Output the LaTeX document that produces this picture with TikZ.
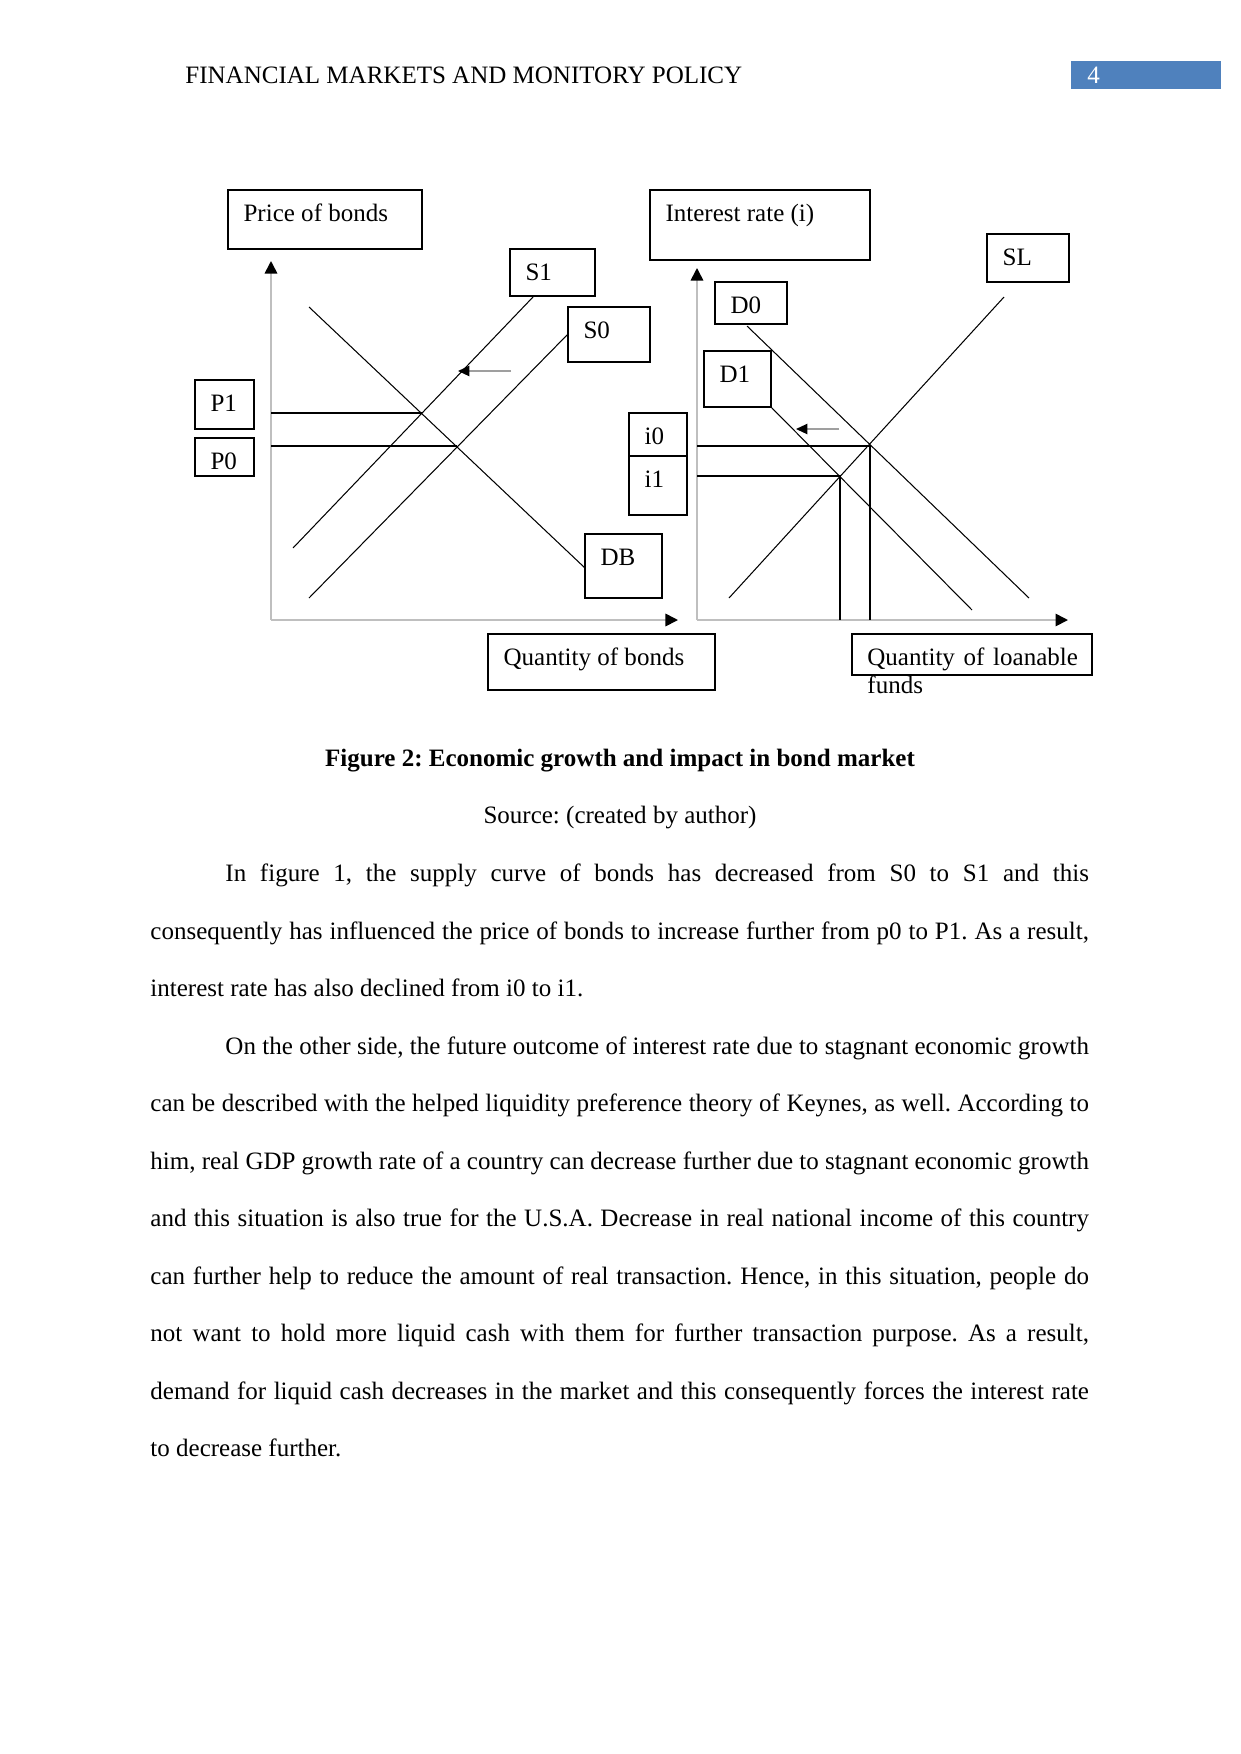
\documentclass[tikz,border=0pt,12pt]{standalone}
\usepackage{fontspec}
\setmainfont{Liberation Serif}
\usetikzlibrary{arrows.meta}
\definecolor{hdrB}{RGB}{79,129,189}
\frenchspacing
\tikzset{
  txt/.style={anchor=base west, inner sep=0pt, font=\fontsize{12}{13.8}\selectfont},
  tbox/.style={draw, line width=0.55pt},
  tlbl/.style={anchor=north west, inner xsep=7.2pt, inner ysep=4.1pt,
    text height=10.7pt, text depth=2.6pt, font=\fontsize{12}{13.8}\selectfont},
  curve/.style={line width=0.5pt},
  axis/.style={gray!50, line width=0.8pt, -{Triangle[length=6pt,width=6pt,color=black]}},
  moveArrow/.style={gray!75, line width=0.6pt, -{Triangle[length=5.5pt,width=5pt,color=black]}}
}

\begin{document}
\begin{tikzpicture}[x=0.47968pt, y=-0.47968pt]
\useasboundingbox (0,0) rectangle (1241,1754);
% page header
\node[txt] (hdr) at (185,83) {FINANCIAL MARKETS AND MONITORY POLICY};
\fill[hdrB] (1071,61) rectangle (1221,89);
\node[txt, white] (pgnum) at (1087,83) {4};
% left: bond market
\draw[axis] (271,620) -- (271,261);
\draw[axis] (271,620) -- (678,620);
\draw[tbox] (228,190) node[tlbl] (pb) {Price of bonds} rectangle (422,249);
\draw[tbox] (510,249) node[tlbl] (s1) {S1} rectangle (595,296);
\draw[tbox] (568,307) node[tlbl] (s0) {S0} rectangle (650,362);
\draw[tbox] (195,380) node[tlbl] (p1) {P1} rectangle (254,429);
\draw[tbox] (195,438) node[tlbl] (p0) {P0} rectangle (254,476);
\draw[tbox] (585,534) node[tlbl] (db) {DB} rectangle (662,598);
\draw[tbox] (488,634) node[tlbl] (qb) {Quantity of bonds} rectangle (715,690);
\draw[curve] (309,307) -- (585,568);
\draw[curve] (533,297) -- (293,548);
\draw[curve] (568,334) -- (309,598);
\draw[curve] (271,413) -- (422,413);
\draw[curve] (271,446) -- (457,446);
\draw[moveArrow] (511,371) -- (458,371);
% i0 / i1 labels
\draw[tbox] (629,413) node[tlbl] (i0) {i0} rectangle (687,515);
\draw[tbox] (629,456) node[tlbl] (i1) {i1} -- (687,456);
% right: loanable funds market
\draw[axis] (697,620) -- (697,268);
\draw[axis] (697,620) -- (1068,620);
\draw[tbox] (650,190) node[tlbl] (ir) {Interest rate (i)} rectangle (870,260);
\draw[tbox] (987,234) node[tlbl] (sl) {SL} rectangle (1069,282);
\draw[tbox] (715,282) node[tlbl] (d0) {D0} rectangle (787,324);
\draw[tbox] (704,351) node[tlbl] (d1) {D1} rectangle (771,407);
\draw[tbox] (852,634) rectangle (1092,675);
\node[txt, text width=101pt, align=justify, font=\fontsize{12}{13.5}\selectfont] (qlf) at (867,665) {Quantity of loanable funds};
\draw[curve] (1004,297) -- (729,598);
\draw[curve] (747,326) -- (1029,598);
\draw[curve] (771,407) -- (972,610);
\draw[curve] (697,446) -- (870,446) -- (870,620);
\draw[curve] (697,476) -- (840,476) -- (840,620);
\draw[moveArrow] (839,429) -- (796,429);
% caption and text
\node[anchor=base, inner sep=0pt, font=\fontsize{12}{13.8}\selectfont\bfseries] (cap) at (620,766) {Figure 2: Economic growth and impact in bond market};
\node[anchor=base, inner sep=0pt, font=\fontsize{12}{13.8}\selectfont] (src) at (620,823) {Source: (created by author)};
\node[txt, text width=450.2pt, align=justify, font=\fontsize{12}{27.6}\selectfont] (body) at (150,881.5) {%
\hspace*{36pt}In figure 1, the supply curve of bonds has decreased from S0 to S1 and this\linebreak
consequently has influenced the price of bonds to increase further from p0 to P1. As a result,\linebreak
interest rate has also declined from i0 to i1.\par
\hspace*{36pt}On the other side, the future outcome of interest rate due to stagnant economic growth\linebreak
can be described with the helped liquidity preference theory of Keynes, as well. According to\linebreak
him, real GDP growth rate of a country can decrease further due to stagnant economic growth\linebreak
and this situation is also true for the U.S.A. Decrease in real national income of this country\linebreak
can further help to reduce the amount of real transaction. Hence, in this situation, people do\linebreak
not want to hold more liquid cash with them for further transaction purpose. As a result,\linebreak
demand for liquid cash decreases in the market and this consequently forces the interest rate\linebreak
to decrease further.};
\end{tikzpicture}
\end{document}
